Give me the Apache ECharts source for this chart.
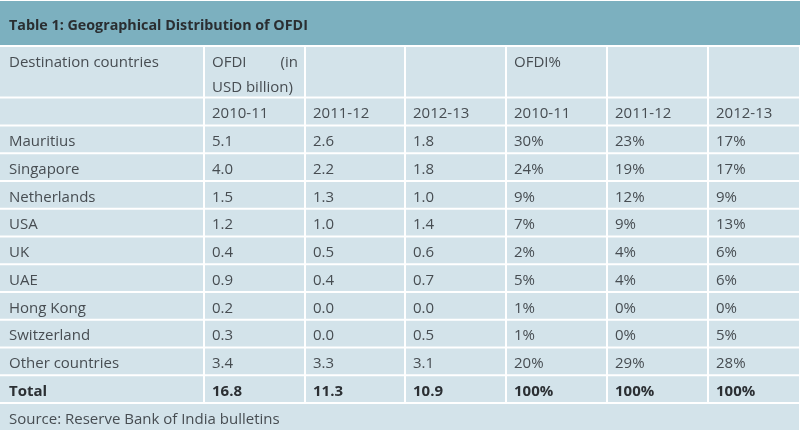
<!DOCTYPE html>
<html><head><meta charset="utf-8">
<script src="https://cdn.jsdelivr.net/npm/echarts@6/dist/echarts.min.js"></script>
<style>html,body{margin:0;padding:0;background:#fff}#c{width:800px;height:433px}</style>
</head><body><div id="c"></div>
<script>
// ---- data ----
var title = 'Table 1: Geographical Distribution of OFDI';
var source = 'Source: Reserve Bank of India bulletins';
var headerRow1 = ['Destination countries', 'OFDI|(in|USD billion)', '', '', 'OFDI%', '', ''];
var years = ['2010-11', '2011-12', '2012-13'];
var countries = ['Mauritius', 'Singapore', 'Netherlands', 'USA', 'UK', 'UAE', 'Hong Kong', 'Switzerland', 'Other countries', 'Total'];
var ofdi2010 = [5.1, 4.0, 1.5, 1.2, 0.4, 0.9, 0.2, 0.3, 3.4, 16.8];
var ofdi2011 = [2.6, 2.2, 1.3, 1.0, 0.5, 0.4, 0.0, 0.0, 3.3, 11.3];
var ofdi2012 = [1.8, 1.8, 1.0, 1.4, 0.6, 0.7, 0.0, 0.5, 3.1, 10.9];
var pct2010 = [30, 24, 9, 7, 2, 5, 1, 1, 20, 100];
var pct2011 = [23, 19, 12, 9, 4, 4, 0, 0, 29, 100];
var pct2012 = [17, 17, 9, 13, 6, 6, 0, 5, 28, 100];

// ---- layout (not data) ----
var colEdges = [0, 204, 305, 405, 506, 607, 708, 799];
var rowEdges = [46, 97.5, 125.5, 153.25, 181, 208.75, 236.5, 264.25, 292, 319.75, 347.5, 375.25, 403, 431];
var titleBand = [1, 45];

var cells = [];
headerRow1.forEach(function (t, c) { cells.push({ c0: c, c1: c + 1, r: 0, text: t, kind: 'h1' }); });
cells.push({ c0: 0, c1: 1, r: 1, text: '', kind: 'd' });
years.concat(years).forEach(function (t, i) { cells.push({ c0: i + 1, c1: i + 2, r: 1, text: t, kind: 'd' }); });
countries.forEach(function (name, i) {
  var bold = name === 'Total';
  var vals = [name, ofdi2010[i].toFixed(1), ofdi2011[i].toFixed(1), ofdi2012[i].toFixed(1),
    pct2010[i] + '%', pct2011[i] + '%', pct2012[i] + '%'];
  vals.forEach(function (t, c) { cells.push({ c0: c, c1: c + 1, r: i + 2, text: t, kind: 'd', bold: bold }); });
});
cells.push({ c0: 0, c1: 7, r: 12, text: source, kind: 'd' });

var seriesData = cells.map(function (d, i) { return [i]; });

var FONT = '15px "Open Sans"';
var BFONT = 'bold 15px "Open Sans"';
var TXT = '#474d52';

function renderItem(params, api) {
  var d = cells[api.value(0)];
  var p0 = api.coord([colEdges[d.c0], rowEdges[d.r]]);
  var p1 = api.coord([colEdges[d.c1], rowEdges[d.r + 1]]);
  var x0 = p0[0] + (d.c0 === 0 ? 0 : 1), x1 = p1[0] - 1;
  if (d.c1 === 7) x1 = p1[0];
  var y0 = p0[1] + 1, y1 = p1[1] - 1;
  var children = [{
    type: 'rect', shape: { x: x0, y: y0, width: x1 - x0, height: y1 - y0 },
    style: { fill: '#d3e3ea' }
  }];
  var tx = x0 + (d.c0 === 0 ? 9 : 7);
  if (d.kind === 'h1' && d.text.indexOf('|') >= 0) {
    var parts = d.text.split('|');
    children.push({ type: 'text', x: tx, y: y0 + 16, style: { text: parts[0], font: FONT, fill: TXT, verticalAlign: 'middle' } });
    children.push({ type: 'text', x: x1 - 6, y: y0 + 16, style: { text: parts[1], font: FONT, fill: TXT, verticalAlign: 'middle', align: 'right' } });
    children.push({ type: 'text', x: tx, y: y0 + 40.5, style: { text: parts[2], font: FONT, fill: TXT, verticalAlign: 'middle' } });
  } else if (d.text) {
    var ty = d.kind === 'h1' ? y0 + 16 : (y0 + y1) / 2 + 2.5;
    children.push({ type: 'text', x: tx, y: ty, style: { text: d.text, font: d.bold ? BFONT : FONT, fill: d.bold ? '#2b2f33' : TXT, verticalAlign: 'middle' } });
  }
  return { type: 'group', children: children };
}

function renderTitle(params, api) {
  var a = api.coord([0, titleBand[0]]), b = api.coord([800, titleBand[1]]);
  return { type: 'group', children: [
    { type: 'rect', shape: { x: a[0], y: a[1], width: b[0] - a[0], height: b[1] - a[1] }, style: { fill: '#7cb0bf' } },
    { type: 'text', x: a[0] + 9, y: (a[1] + b[1]) / 2 + 3, style: { text: title, font: 'bold 14.3px "Open Sans"', fill: '#2a2e31', verticalAlign: 'middle' } }
  ] };
}

var chart = echarts.init(document.getElementById('c'), null, { renderer: 'canvas' });
chart.setOption({
  animation: false,
  backgroundColor: '#ffffff',
  grid: { left: 0, right: 0, top: 0, bottom: 0 },
  xAxis: { type: 'value', min: 0, max: 800, show: false },
  yAxis: { type: 'value', min: 0, max: 433, inverse: true, show: false },
  series: [
    { type: 'custom', renderItem: renderTitle, data: [[0]], silent: true },
    { type: 'custom', renderItem: renderItem, data: seriesData, silent: true }
  ]
});
</script></body></html>
